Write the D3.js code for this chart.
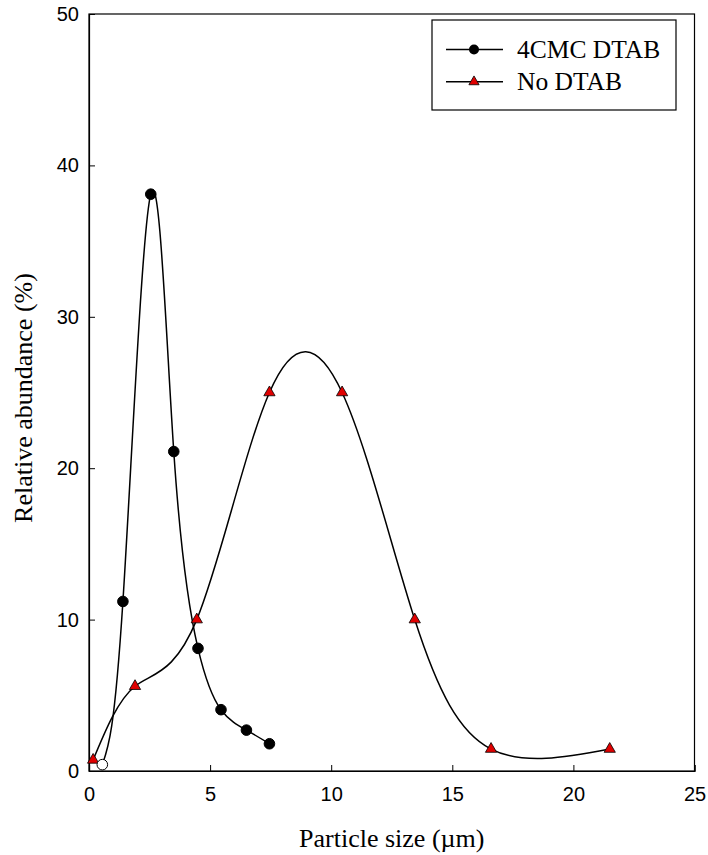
<!DOCTYPE html>
<html><head><meta charset="utf-8">
<script src="https://cdn.jsdelivr.net/npm/d3@7"></script>
<style>body{margin:0;background:#fff}</style>
</head><body>
<svg id="c" width="708" height="855"></svg>
<script>
const cmcX = [0.55, 1.4, 2.55, 3.5, 4.5, 5.45, 6.5, 7.45];
const cmcY = [0.42, 11.2, 38.1, 21.1, 8.1, 4.05, 2.7, 1.8];
const noX = [0.17, 1.9, 4.45, 7.45, 10.45, 13.45, 16.6, 21.5];
const noY = [0.73, 5.6, 10.0, 25.0, 25.0, 10.0, 1.45, 1.45];
const xTicks = [0, 5, 10, 15, 20, 25];
const yTicks = [0, 10, 20, 30, 40, 50];
const seriesNames = ["4CMC DTAB", "No DTAB"];

const svg = d3.select("#c");
const L = 89, R = 694.5, T = 14, B = 771;
const x = d3.scaleLinear().domain([0, 25]).range([L, R]);
const y = d3.scaleLinear().domain([0, 50]).range([B, T]);

svg.append("rect").attr("x", L).attr("y", T).attr("width", R - L).attr("height", B - T)
  .attr("fill", "none").attr("stroke", "#000").attr("stroke-width", 1.2);

const xa = svg.append("g").attr("transform", `translate(0,${B})`)
  .call(d3.axisBottom(x).tickValues(xTicks).tickSize(-6).tickPadding(16).tickFormat(d3.format("d")));
const ya = svg.append("g").attr("transform", `translate(${L},0)`)
  .call(d3.axisLeft(y).tickValues(yTicks).tickSize(-6).tickPadding(10).tickFormat(d3.format("d")));
[xa, ya].forEach(a => {
  a.select(".domain").attr("stroke", "#000").attr("stroke-width", 1.2);
  a.selectAll("text").attr("font-family", "Liberation Sans, Arial, sans-serif").attr("font-size", 20).attr("fill", "#000");
  a.selectAll("line").attr("stroke", "#000");
});

svg.append("text").attr("x", (L + R) / 2).attr("y", 847).attr("text-anchor", "middle")
  .attr("font-family", "Liberation Serif, Times New Roman, serif").attr("font-size", 26)
  .text("Particle size (\u00b5m)");
svg.append("text").attr("transform", `translate(32,398) rotate(-90)`).attr("text-anchor", "middle")
  .attr("font-family", "Liberation Serif, Times New Roman, serif").attr("font-size", 26)
  .text("Relative abundance (%)");

const line = d3.line().x(d => x(d[0])).y(d => y(d[1])).curve(d3.curveNatural);
const cmc = cmcX.map((v, i) => [v, cmcY[i]]);
const no = noX.map((v, i) => [v, noY[i]]);

svg.append("path").datum(no).attr("d", line).attr("fill", "none").attr("stroke", "#000").attr("stroke-width", 1.5);
svg.append("path").datum(cmc).attr("d", line).attr("fill", "none").attr("stroke", "#000").attr("stroke-width", 1.5);

const tri = d3.symbol().type(d3.symbolTriangle).size(55);
svg.selectAll(".tri").data(no).enter().append("path")
  .attr("transform", d => `translate(${x(d[0])},${y(d[1])})`)
  .attr("d", tri).attr("fill", "#e00000").attr("stroke", "#000").attr("stroke-width", 0.8);

svg.selectAll(".dot").data(cmc).enter().append("circle")
  .attr("cx", d => x(d[0])).attr("cy", d => y(d[1])).attr("r", 5.3)
  .attr("fill", (d, i) => i === 0 ? "#fff" : "#000").attr("stroke", "#000").attr("stroke-width", 1);

const lg = svg.append("g");
lg.append("rect").attr("x", 432).attr("y", 20).attr("width", 244).attr("height", 90)
  .attr("fill", "#fff").attr("stroke", "#000").attr("stroke-width", 1.2);
seriesNames.forEach((n, i) => {
  const cy = 49.5 + i * 32.3;
  lg.append("line").attr("x1", 446).attr("x2", 503).attr("y1", cy).attr("y2", cy).attr("stroke", "#000").attr("stroke-width", 1.5);
  if (i === 0) lg.append("circle").attr("cx", 474).attr("cy", cy).attr("r", 5).attr("fill", "#000");
  else lg.append("path").attr("transform", `translate(474,${cy})`).attr("d", d3.symbol().type(d3.symbolTriangle).size(45)).attr("fill", "#e00000").attr("stroke", "#000").attr("stroke-width", 0.8);
  lg.append("text").attr("x", 517).attr("y", cy + 8.5).attr("font-family", "Liberation Serif, Times New Roman, serif")
    .attr("font-size", 25.5).text(n);
});
</script>
</body></html>
